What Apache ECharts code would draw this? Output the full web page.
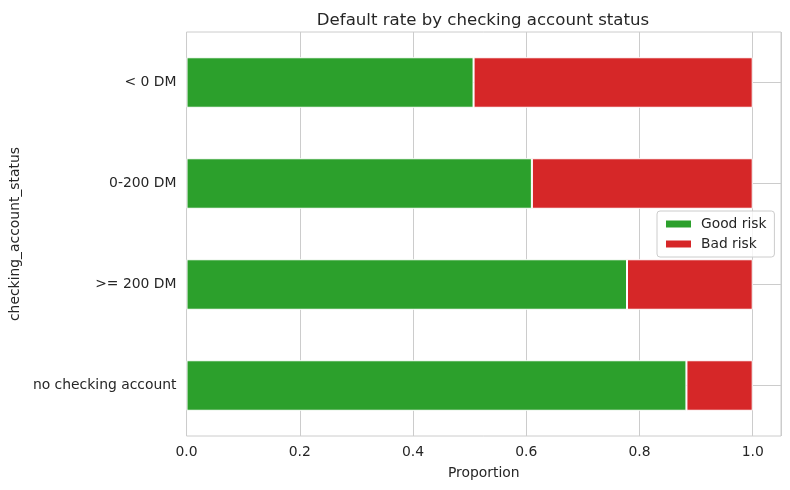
<!DOCTYPE html>
<html>
<head>
<meta charset="utf-8">
<script src="https://cdn.jsdelivr.net/npm/echarts@6/dist/echarts.min.js"></script>
<style>
html,body{margin:0;padding:0;background:#fff;}
#chart{width:790px;height:490px;}
</style>
</head>
<body>
<div id="chart"></div>
<script>
const categories = ['< 0 DM', '0-200 DM', '>= 200 DM', 'no checking account'];
const goodRisk = [0.507, 0.610, 0.778, 0.883];
const badRisk = [0.493, 0.390, 0.222, 0.117];
const xTicks = [0.0, 0.2, 0.4, 0.6, 0.8, 1.0];

const FONT = 'DejaVu Sans';
const TXT = '#262626';
const GRIDC = '#cccccc';

const chart = echarts.init(document.getElementById('chart'), null, {renderer: 'canvas'});
chart.setOption({
  animation: false,
  backgroundColor: '#ffffff',
  textStyle: {fontFamily: FONT, color: TXT},
  title: {
    text: 'Default rate by checking account status',
    left: 478, top: 7, textAlign: 'center',
    textStyle: {fontFamily: FONT, fontSize: 16.6, fontWeight: 'normal', color: TXT}
  },
  grid: {left: 181, right: 9, top: 32, bottom: 54, show: true, borderColor: GRIDC, borderWidth: 1, containLabel: false},
  legend: {
    data: ['Good risk', 'Bad risk'],
    orient: 'vertical', left: 657, top: 211,
    padding: [6, 8, 6, 7], itemGap: 6,
    itemWidth: 27, itemHeight: 9, icon: 'rect',
    backgroundColor: 'rgba(255,255,255,0.8)', borderColor: GRIDC, borderWidth: 1, borderRadius: 3,
    textStyle: {fontFamily: FONT, fontSize: 13.8, color: TXT, padding: [0, 0, 0, 4]}
  },
  xAxis: {
    type: 'value', min: 0, max: 1.05, interval: 0.2,
    name: 'Proportion', nameLocation: 'middle', nameGap: 30,
    nameTextStyle: {fontFamily: FONT, fontSize: 13.9, color: TXT},
    axisLine: {show: false}, axisTick: {show: false},
    axisLabel: {fontFamily: FONT, fontSize: 13.9, color: TXT, margin: 9, showMaxLabel: false,
      formatter: v => { const t = xTicks.find(x => Math.abs(x - v) < 1e-9); return t === undefined ? '' : t.toFixed(1); }},
    splitLine: {show: true, lineStyle: {color: GRIDC, width: 1}}
  },
  yAxis: {
    type: 'category', data: categories, inverse: true,
    name: 'checking_account_status', nameLocation: 'middle', nameGap: 154, nameRotate: 90,
    nameTextStyle: {fontFamily: FONT, fontSize: 13.9, color: TXT},
    axisLine: {show: false}, axisTick: {show: false},
    axisLabel: {fontFamily: FONT, fontSize: 13.9, color: TXT, margin: 10},
    splitLine: {show: false}
  },
  series: [
    {
      name: 'hgrid', type: 'line', data: [], z: 0, silent: true,
      markLine: {
        z: 0, silent: true, symbol: 'none', label: {show: false},
        lineStyle: {color: GRIDC, width: 1, type: 'solid'},
        data: categories.map(c => ({yAxis: c}))
      }
    },
    {
      name: 'Good risk', type: 'bar', stack: 'total', data: goodRisk, barWidth: '50%', z: 2,
      itemStyle: {color: '#2ca02c', borderColor: '#ffffff', borderWidth: 1}
    },
    {
      name: 'Bad risk', type: 'bar', stack: 'total', data: badRisk, barWidth: '50%', z: 2,
      itemStyle: {color: '#d62728', borderColor: '#ffffff', borderWidth: 1}
    }
  ]
});
</script>
</body>
</html>
